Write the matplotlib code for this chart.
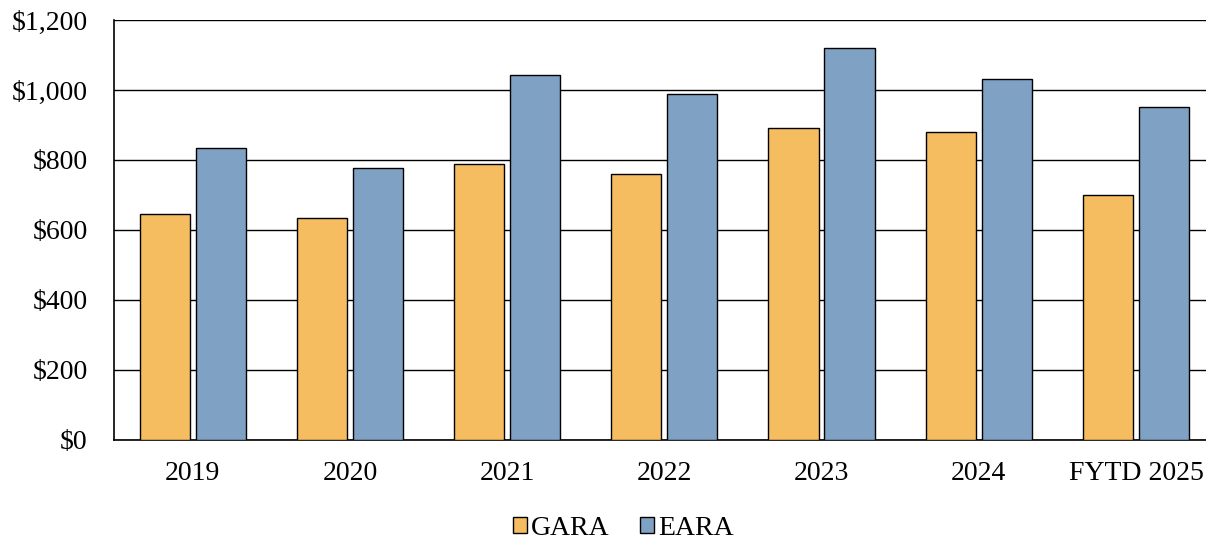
import numpy as np
import matplotlib.pyplot as plt
from matplotlib.ticker import FuncFormatter

# Annual amounts by fiscal year
years = ['2019', '2020', '2021', '2022', '2023', '2024', 'FYTD 2025']
gara = [646, 635, 789, 760, 892, 881, 701]
eara = [833, 778, 1043, 988, 1120, 1031, 952]

plt.rcParams['font.family'] = ['Liberation Serif', 'DejaVu Serif']

fig = plt.figure(figsize=(12.06, 5.39), dpi=100)
# the plot area runs a little past the right edge of the figure
ax = fig.add_axes([0.0946, 0.1837, 0.9125, 0.7792])

x = np.arange(len(years))
width = 0.32
offset = 0.178

ax.bar(x - offset, gara, width, color='#F5BD5F', edgecolor='black',
       linewidth=1.0, label='GARA', zorder=3)
ax.bar(x + offset, eara, width, color='#7FA1C4', edgecolor='black',
       linewidth=1.0, label='EARA', zorder=3)

ax.set_xlim(-0.5, len(years) - 0.5)
ax.set_ylim(0, 1200)
ax.set_yticks(range(0, 1201, 200))
ax.yaxis.set_major_formatter(FuncFormatter(lambda v, p: f'${v:,.0f}'))
ax.set_xticks(x)
ax.set_xticklabels(years)

# horizontal gridlines behind the bars
ax.grid(axis='y', color='black', linewidth=1.0, zorder=0)
ax.set_axisbelow(True)

for side in ['top', 'right']:
    ax.spines[side].set_visible(False)
ax.spines['left'].set_linewidth(1.2)
ax.spines['bottom'].set_linewidth(1.2)

ax.tick_params(axis='y', length=0, pad=19, labelsize=20)
ax.tick_params(axis='x', length=0, pad=15, labelsize=20)

fig.legend(loc='lower center', bbox_to_anchor=(0.517, -0.035), ncol=2,
           frameon=False, fontsize=20, handlelength=0.5, handleheight=0.5,
           handletextpad=0.15, columnspacing=1.1, borderaxespad=0.2)

fig.savefig('out.png', dpi=100)
